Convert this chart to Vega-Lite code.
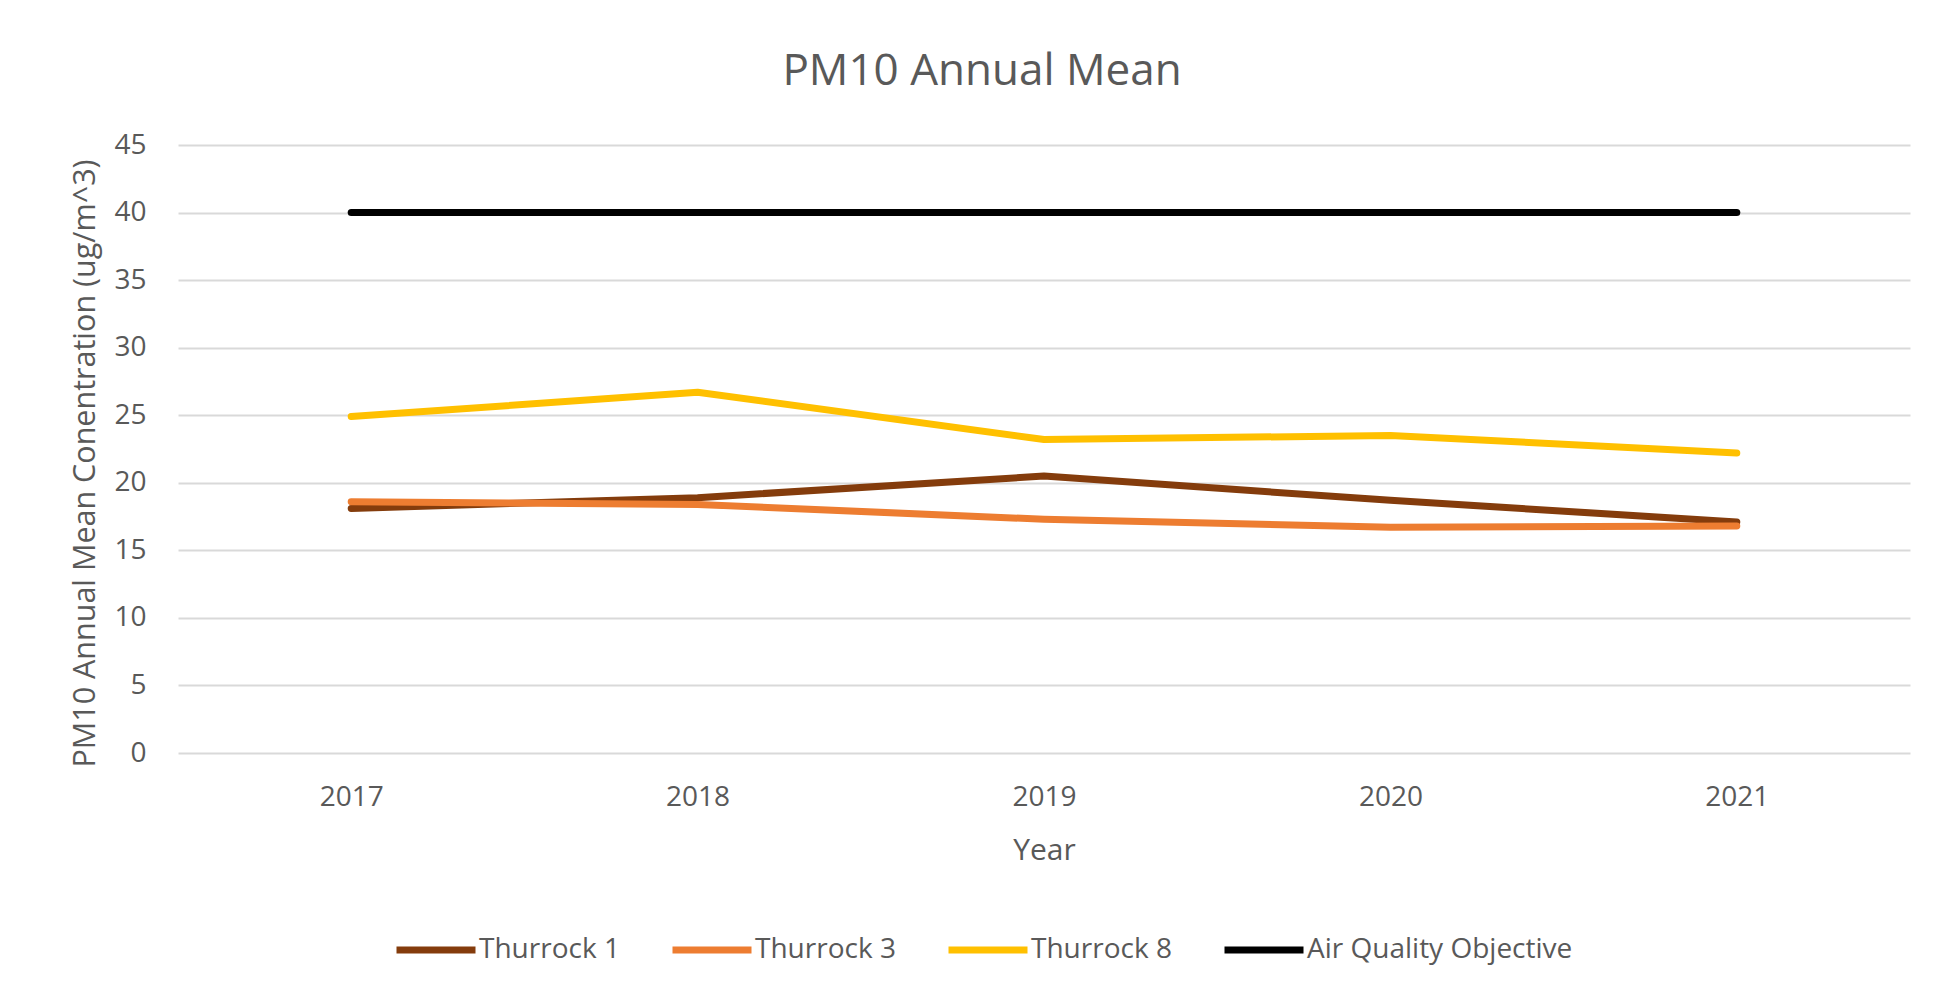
{
  "$schema": "https://vega.github.io/schema/vega-lite/v6.json",
  "autosize": {"type": "none"},
  "width": 1732,
  "height": 608,
  "padding": {"left": 178, "top": 145, "right": 44, "bottom": 245},
  "background": "white",
  "title": {
    "text": "PM10 Annual Mean",
    "font": "Open Sans",
    "fontSize": 44,
    "fontWeight": "normal",
    "color": "#595959",
    "anchor": "middle",
    "dx": -62,
    "offset": 37
  },
  "data": {
    "values": [
      {"year": "2017", "series": "Thurrock 1", "value": 18.1},
      {"year": "2018", "series": "Thurrock 1", "value": 18.9},
      {"year": "2019", "series": "Thurrock 1", "value": 20.5},
      {"year": "2020", "series": "Thurrock 1", "value": 18.7},
      {"year": "2021", "series": "Thurrock 1", "value": 17.1},
      {"year": "2017", "series": "Thurrock 3", "value": 18.6},
      {"year": "2018", "series": "Thurrock 3", "value": 18.4},
      {"year": "2019", "series": "Thurrock 3", "value": 17.3},
      {"year": "2020", "series": "Thurrock 3", "value": 16.7},
      {"year": "2021", "series": "Thurrock 3", "value": 16.8},
      {"year": "2017", "series": "Thurrock 8", "value": 24.9},
      {"year": "2018", "series": "Thurrock 8", "value": 26.7},
      {"year": "2019", "series": "Thurrock 8", "value": 23.2},
      {"year": "2020", "series": "Thurrock 8", "value": 23.5},
      {"year": "2021", "series": "Thurrock 8", "value": 22.2},
      {"year": "2017", "series": "Air Quality Objective", "value": 40},
      {"year": "2018", "series": "Air Quality Objective", "value": 40},
      {"year": "2019", "series": "Air Quality Objective", "value": 40},
      {"year": "2020", "series": "Air Quality Objective", "value": 40},
      {"year": "2021", "series": "Air Quality Objective", "value": 40}
    ]
  },
  "mark": {"type": "line", "strokeCap": "round", "strokeJoin": "round"},
  "encoding": {
    "x": {
      "field": "year",
      "type": "ordinal",
      "scale": {"type": "point", "padding": 0.5},
      "axis": {
        "title": "Year",
        "labelAngle": 0,
        "grid": false,
        "domain": false,
        "ticks": false,
        "labelPadding": 30,
        "labelFont": "Open Sans",
        "labelFontSize": 28,
        "labelColor": "#595959",
        "titleFont": "Open Sans",
        "titleFontSize": 30,
        "titleFontWeight": "normal",
        "titleColor": "#595959",
        "titlePadding": 24
      }
    },
    "y": {
      "field": "value",
      "type": "quantitative",
      "scale": {"domain": [0, 45], "nice": false},
      "axis": {
        "title": "PM10 Annual Mean Conentration (ug/m^3)",
        "values": [0, 5, 10, 15, 20, 25, 30, 35, 40, 45],
        "grid": true,
        "gridColor": "#d9d9d9",
        "gridWidth": 2,
        "domain": false,
        "ticks": false,
        "labelPadding": 32,
        "labelFont": "Open Sans",
        "labelFontSize": 28,
        "labelColor": "#595959",
        "titleFont": "Open Sans",
        "titleFontSize": 30.5,
        "titleFontWeight": "normal",
        "titleColor": "#595959",
        "titlePadding": 13,
        "titleY": 318
      }
    },
    "color": {
      "field": "series",
      "type": "nominal",
      "scale": {
        "domain": ["Thurrock 1", "Thurrock 3", "Thurrock 8", "Air Quality Objective"],
        "range": ["#843C0C", "#ED7D31", "#FFC000", "#000000"]
      },
      "legend": {
        "title": null,
        "orient": "none",
        "direction": "horizontal",
        "legendX": 215,
        "legendY": 762,
        "padding": 0,
        "symbolType": "stroke",
        "symbolSize": 6241,
        "symbolStrokeWidth": 8,
        "labelFont": "Open Sans",
        "labelFontSize": 28,
        "labelColor": "#595959",
        "labelOffset": 0,
        "columnPadding": 38,
        "labelLimit": 500
      }
    },
    "strokeWidth": {
      "field": "series",
      "type": "nominal",
      "scale": {
        "domain": ["Thurrock 1", "Thurrock 3", "Thurrock 8", "Air Quality Objective"],
        "range": [7, 7, 7, 8.5]
      },
      "legend": null
    }
  },
  "config": {"view": {"stroke": null}}
}
